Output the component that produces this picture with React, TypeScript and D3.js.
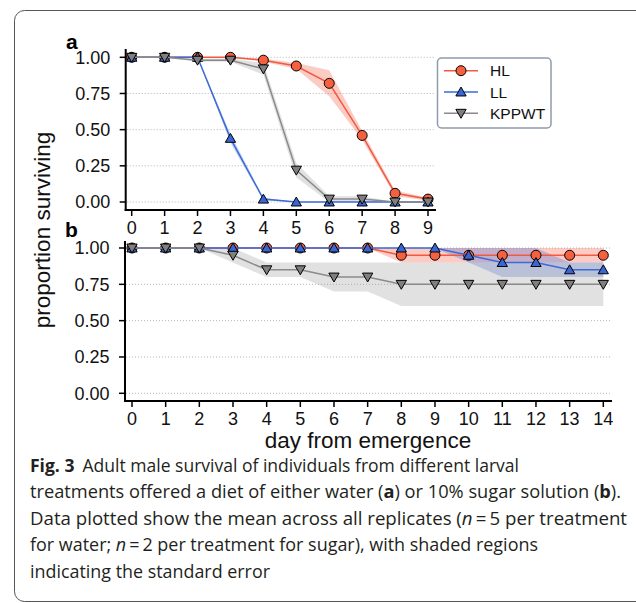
import React from "react";
import * as d3 from "d3";

// ---------- DATA ----------
const waterDays = [0, 1, 2, 3, 4, 5, 6, 7, 8, 9];
const sugarDays = [0, 1, 2, 3, 4, 5, 6, 7, 8, 9, 10, 11, 12, 13, 14];
const seriesNames = ["HL", "LL", "KPPWT"];

const waterHL = [1.0, 1.0, 1.0, 1.0, 0.98, 0.94, 0.82, 0.46, 0.06, 0.02];
const waterHLse = [0, 0, 0, 0, 0.01, 0.02, 0.09, 0.03, 0.02, 0.01];
const waterLL = [1.0, 1.0, 1.0, 0.44, 0.02, 0.0, 0.0, 0.0, 0.0, 0.0];
const waterLLse = [0, 0, 0, 0.03, 0.01, 0, 0, 0, 0, 0];
const waterKP = [1.0, 1.0, 0.98, 0.98, 0.92, 0.22, 0.02, 0.02, 0.0, 0.0];
const waterKPse = [0, 0, 0.01, 0.01, 0.04, 0.05, 0.02, 0.02, 0, 0];

const sugarHL = [1, 1, 1, 1, 1, 1, 1, 1, 0.95, 0.95, 0.95, 0.95, 0.95, 0.95, 0.95];
const sugarHLse = [0, 0, 0, 0, 0, 0, 0, 0, 0.05, 0.05, 0.05, 0.05, 0.05, 0.05, 0.05];
const sugarLL = [1, 1, 1, 1, 1, 1, 1, 1, 1, 1, 0.95, 0.9, 0.9, 0.85, 0.85];
const sugarLLse = [0, 0, 0, 0, 0, 0, 0, 0, 0, 0, 0.05, 0.1, 0.1, 0.05, 0.05];
const sugarKP = [1, 1, 1, 0.95, 0.85, 0.85, 0.8, 0.8, 0.75, 0.75, 0.75, 0.75, 0.75, 0.75, 0.75];
const sugarKPse = [0, 0, 0, 0.05, 0.05, 0.05, 0.1, 0.1, 0.15, 0.15, 0.15, 0.15, 0.15, 0.15, 0.15];

const yTicks = [0, 0.25, 0.5, 0.75, 1.0];
const yTickLabels = ["0.00", "0.25", "0.50", "0.75", "1.00"];

// ---------- STYLE ----------
const COLORS: Record<string, { line: string; fill: string; band: string }> = {
  HL: { line: "#f05a40", fill: "#f5613f", band: "#f4553c" },
  LL: { line: "#3d6ad6", fill: "#3a66d4", band: "#3d6ad6" },
  KPPWT: { line: "#8a8a8a", fill: "#7f7f7f", band: "#9a9a9a" },
};
const AXIS_FONT = "'Liberation Sans', Arial, Helvetica, sans-serif";
const CAP_FONT = "'Open Sans', 'Noto Sans', sans-serif";

type Series = { name: string; mean: number[]; se: number[] };

function Marker({ name, cx, cy }: { name: string; cx: number; cy: number }) {
  const c = COLORS[name];
  if (name === "HL") {
    return <circle cx={cx} cy={cy} r={5} fill={c.fill} stroke="#000" strokeWidth={1} />;
  }
  const path = d3.symbol().type(d3.symbolTriangle).size(46)() as string;
  const rot = name === "KPPWT" ? 180 : 0;
  const dy = name === "KPPWT" ? -1 : 1;
  return (
    <path
      d={path}
      transform={`translate(${cx},${cy + dy}) rotate(${rot})`}
      fill={c.fill}
      stroke="#000"
      strokeWidth={1}
    />
  );
}

function Panel(props: {
  days: number[];
  series: Series[];
  xr: [number, number];
  yr: [number, number];
  left: number;
  right: number;
  top: number;
  bottom: number;
  label: string;
  labelPos: [number, number];
}) {
  const { days, series, xr, yr, left, right, top, bottom, label, labelPos } = props;
  const x = d3.scaleLinear().domain([0, days[days.length - 1]]).range(xr);
  const y = d3.scaleLinear().domain([0, 1]).range(yr);
  const area = d3.area<number>().x((_, i) => x(days[i]));
  const line = d3
    .line<number>()
    .x((_, i) => x(days[i]))
    .y((d) => y(d));
  return (
    <g>
      {yTicks.map((t) => (
        <line
          key={"g" + t}
          x1={left + 1}
          x2={right}
          y1={y(t)}
          y2={y(t)}
          stroke="#b5b5b5"
          strokeWidth={1}
          strokeDasharray="1,2"
        />
      ))}
      {series.map((s) => (
        <path
          key={"b" + s.name}
          d={
            area
              .y0((d, i) => y(d - s.se[i]))
              .y1((d, i) => y(d + s.se[i]))(s.mean) as string
          }
          fill={COLORS[s.name].band}
          fillOpacity={0.3}
          stroke="none"
        />
      ))}
      {series.map((s) => (
        <g key={"s" + s.name}>
          <path d={line(s.mean) as string} fill="none" stroke={COLORS[s.name].line} strokeWidth={1.5} />
          {s.mean.map((v, i) => (
            <Marker key={i} name={s.name} cx={x(days[i])} cy={y(v)} />
          ))}
        </g>
      ))}
      {/* spines */}
      <line x1={left} x2={left} y1={top} y2={bottom + 1} stroke="#000" strokeWidth={2} />
      <line x1={left - 1} x2={right + 1} y1={bottom} y2={bottom} stroke="#000" strokeWidth={2} />
      {yTicks.map((t, i) => (
        <g key={"yt" + t}>
          <line x1={left - 6} x2={left} y1={y(t)} y2={y(t)} stroke="#000" strokeWidth={1.5} />
          <text
            x={left - 15.5}
            y={y(t)}
            dy="0.36em"
            textAnchor="end"
            fontFamily={AXIS_FONT}
            fontSize={18}
            fill="#111"
          >
            {yTickLabels[i]}
          </text>
        </g>
      ))}
      {days.map((d) => (
        <g key={"xt" + d}>
          <line x1={x(d)} x2={x(d)} y1={bottom} y2={bottom + 6} stroke="#000" strokeWidth={1.5} />
          <text
            x={x(d)}
            y={bottom + 23.5}
            textAnchor="middle"
            fontFamily={AXIS_FONT}
            fontSize={18}
            fill="#111"
          >
            {d}
          </text>
        </g>
      ))}
      <text
        x={labelPos[0]}
        y={labelPos[1]}
        fontFamily={AXIS_FONT}
        fontWeight="bold"
        fontSize={21}
        fill="#000"
      >
        {label}
      </text>
    </g>
  );
}

function Legend({ x0, y0 }: { x0: number; y0: number }) {
  return (
    <g>
      <rect
        x={x0}
        y={y0}
        width={113.5}
        height={70}
        rx={4}
        fill="#fff"
        stroke="#8e9bab"
        strokeWidth={1.5}
      />
      {seriesNames.map((n, i) => {
        const cy = y0 + 12.7 + i * 21.3;
        return (
          <g key={n}>
            <line x1={x0 + 6.5} x2={x0 + 40.5} y1={cy} y2={cy} stroke={COLORS[n].line} strokeWidth={1.5} />
            <Marker name={n} cx={x0 + 23.5} cy={cy} />
            <text x={x0 + 52.5} y={cy} dy="0.36em" fontFamily={AXIS_FONT} fontSize={15.5} fill="#111">
              {n}
            </text>
          </g>
        );
      })}
    </g>
  );
}

export default function App() {
  const water: Series[] = [
    { name: "HL", mean: waterHL, se: waterHLse },
    { name: "LL", mean: waterLL, se: waterLLse },
    { name: "KPPWT", mean: waterKP, se: waterKPse },
  ];
  const sugar: Series[] = [
    { name: "HL", mean: sugarHL, se: sugarHLse },
    { name: "LL", mean: sugarLL, se: sugarLLse },
    { name: "KPPWT", mean: sugarKP, se: sugarKPse },
  ];
  const capBase = [471.5, 498, 524.5, 551, 577.5];
  const capLen = [489, 591, 597, 508, 240];
  return (
    <svg
      width={636}
      height={603}
      style={{ position: "absolute", left: 0, top: 0, background: "#fff" }}
    >
      <rect x={0} y={0} width={636} height={603} fill="#fff" />
      <rect x={14.5} y={10.5} width={700} height={591} rx={10} fill="none" stroke="#555" strokeWidth={1} />

      <Panel
        days={waterDays}
        series={water}
        xr={[131.7, 428]}
        yr={[202, 57.3]}
        left={125.7}
        right={435}
        top={49}
        bottom={210}
        label="a"
        labelPos={[66, 49]}
      />
      <Legend x0={437.5} y0={58} />
      <Panel
        days={sugarDays}
        series={sugar}
        xr={[132, 603.3]}
        yr={[393.3, 248]}
        left={125}
        right={611}
        top={241}
        bottom={401}
        label="b"
        labelPos={[65, 237]}
      />

      <text
        transform="translate(50,230) rotate(-90)"
        textAnchor="middle"
        fontFamily={AXIS_FONT}
        fontSize={22.5}
        fill="#111"
      >
        proportion surviving
      </text>
      <text x={368} y={448} textAnchor="middle" fontFamily={AXIS_FONT} fontSize={22.5} fill="#111">
        day from emergence
      </text>

      <g fontFamily={CAP_FONT} fontSize={17.5} fill="#231f20">
        <text x={30} y={capBase[0]} textLength={capLen[0]} lengthAdjust="spacingAndGlyphs">
          <tspan fontWeight="bold">Fig. 3</tspan>
          <tspan dx={8}>Adult male survival of individuals from different larval</tspan>
        </text>
        <text x={30} y={capBase[1]} textLength={capLen[1]} lengthAdjust="spacingAndGlyphs">
          treatments offered a diet of either water (<tspan fontWeight="bold">a</tspan>) or 10% sugar solution (
          <tspan fontWeight="bold">b</tspan>).
        </text>
        <text x={30} y={capBase[2]} textLength={capLen[2]} lengthAdjust="spacingAndGlyphs">
          Data plotted show the mean across all replicates (<tspan fontStyle="italic">n</tspan>
          {"\u2009=\u20095 per treatment"}
        </text>
        <text x={30} y={capBase[3]} textLength={capLen[3]} lengthAdjust="spacingAndGlyphs">
          for water; <tspan fontStyle="italic">n</tspan>
          {"\u2009=\u20092 per treatment for sugar), with shaded regions"}
        </text>
        <text x={30} y={capBase[4]} textLength={capLen[4]} lengthAdjust="spacingAndGlyphs">
          indicating the standard error
        </text>
      </g>
    </svg>
  );
}
